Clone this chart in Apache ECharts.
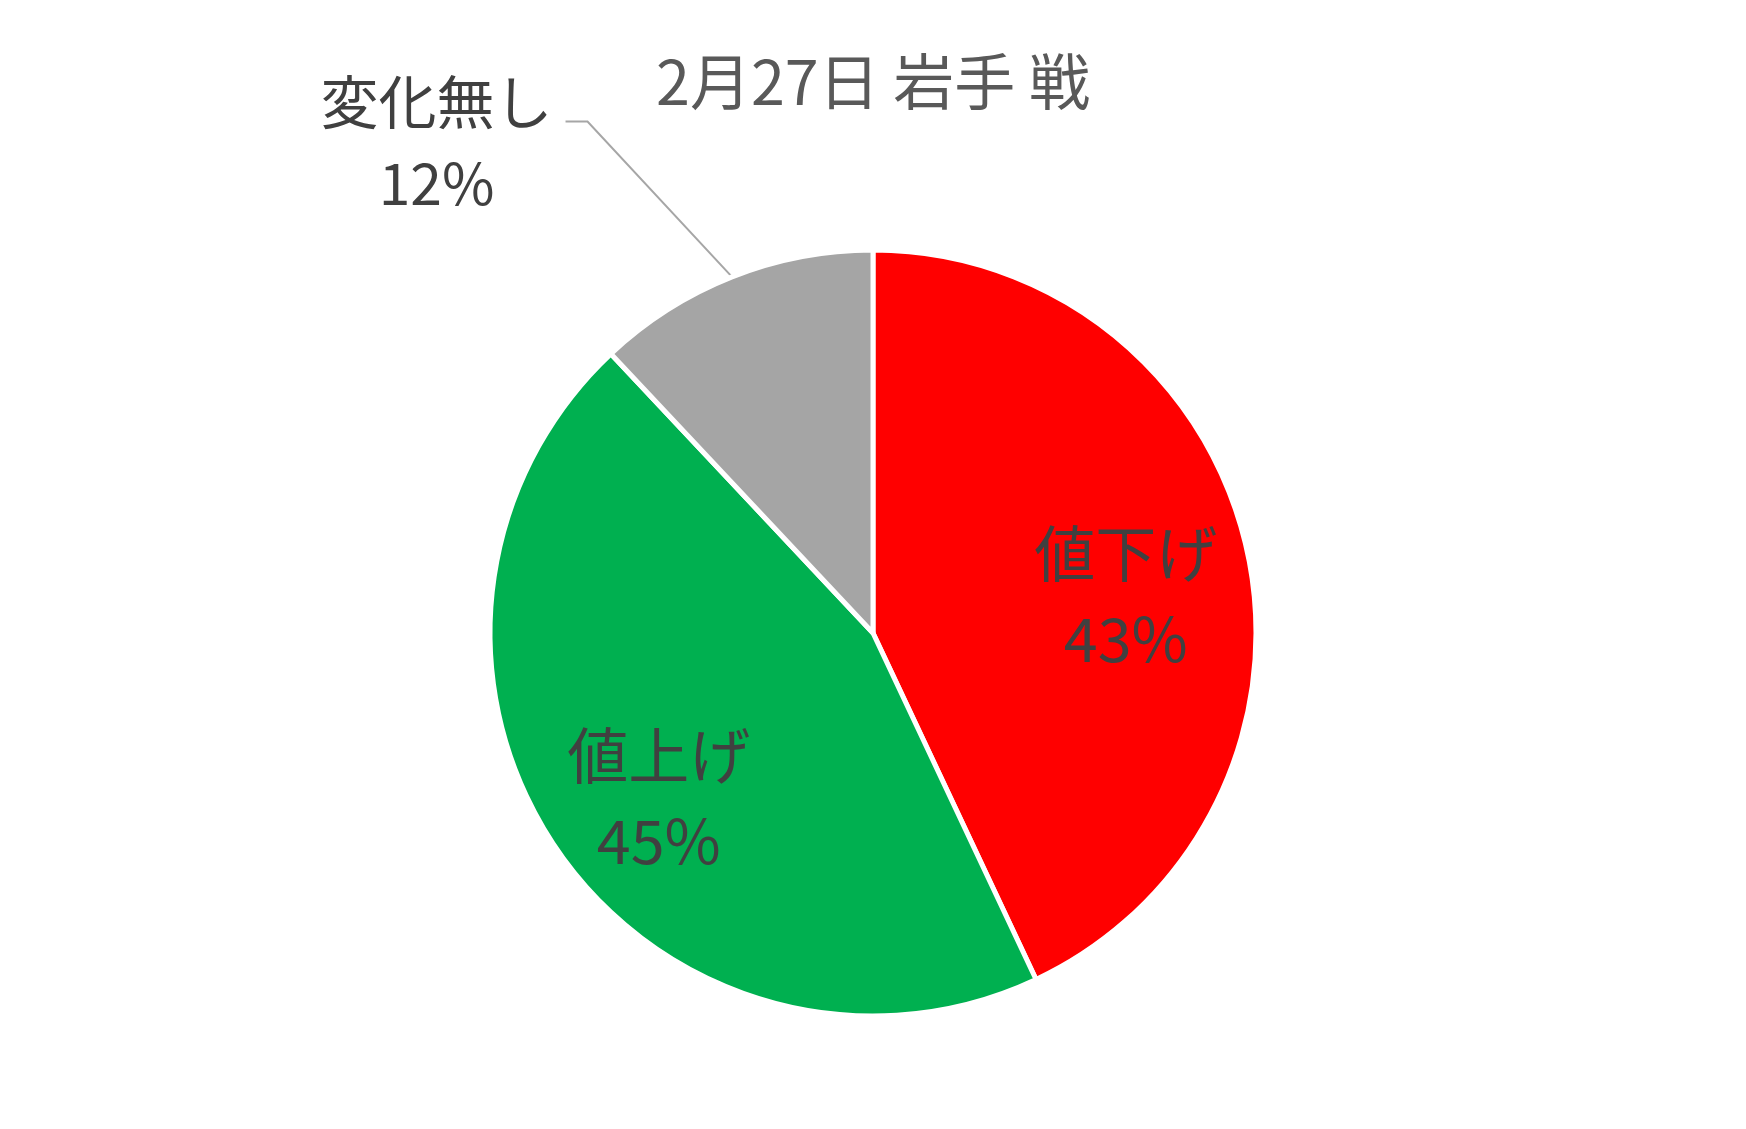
<!DOCTYPE html>
<html>
<head>
<meta charset="utf-8">
<script src="https://cdn.jsdelivr.net/npm/echarts@6/dist/echarts.min.js"></script>
<style>
html,body{margin:0;padding:0;background:#fff;}
#chart{width:1746px;height:1129px;}
</style>
</head>
<body>
<div id="chart"></div>
<script>
const titleText = '2月27日 岩手 戦';
const categories = ['値下げ', '値上げ', '変化無し'];
const values = [43, 45, 12];
const colors = ['#FF0000', '#00B050', '#A5A5A5'];

const FONT = '"Noto Sans CJK JP", "Noto Sans", sans-serif';
const chart = echarts.init(document.getElementById('chart'));

const mainData = categories.map((c, i) => ({
  name: c,
  value: values[i],
  itemStyle: { color: colors[i] },
  label: { show: i === 2 },
  labelLine: { show: i === 2 }
}));
const overlayData = categories.map((c, i) => ({
  name: c,
  value: values[i],
  label: { show: i !== 2 }
}));

chart.setOption({
  backgroundColor: '#ffffff',
  animation: false,
  title: {
    text: titleText,
    left: 'center',
    top: 46,
    textStyle: { fontFamily: FONT, fontSize: 61, fontWeight: 'normal', color: '#595959' }
  },
  series: [
    {
      type: 'pie',
      center: ['50%', 633],
      radius: [0, 383],
      startAngle: 90,
      clockwise: true,
      avoidLabelOverlap: false,
      silent: true,
      itemStyle: { borderColor: '#ffffff', borderWidth: 5 },
      label: {
        position: 'outside',
        fontFamily: FONT,
        color: '#404040',
        padding: [42, 0, 0, 0],
        formatter: p => '{a|' + p.name + '}\n{b|' + p.value + '%}',
        rich: {
          a: { fontFamily: FONT, fontSize: 58, lineHeight: 82, color: '#404040', width: 248, align: 'center' },
          b: { fontFamily: FONT, fontSize: 57, lineHeight: 82, color: '#404040', width: 248, align: 'center' }
        }
      },
      labelLine: {
        length: 167,
        length2: 105,
        lineStyle: { color: '#A6A6A6', width: 2 }
      },
      labelLayout: function (params) {
        const p = params.labelLinePoints;
        if (params.dataIndex !== 2 || !p || p.length < 3) return {};
        const end = p[2];
        return { labelLinePoints: [p[0], [end[0] + 22, end[1]], end] };
      },
      data: mainData
    },
    {
      type: 'pie',
      center: ['50%', 633],
      radius: [129, 383],
      startAngle: 90,
      clockwise: true,
      silent: true,
      avoidLabelOverlap: false,
      itemStyle: { color: 'rgba(0,0,0,0)', borderWidth: 0 },
      label: {
        position: 'inner',
        fontFamily: FONT,
        fontSize: 61,
        lineHeight: 85,
        color: '#404040',
        formatter: p => p.name + '\n' + p.value + '%'
      },
      labelLayout: function () {
        return { dy: 20 };
      },
      labelLine: { show: false },
      data: overlayData
    }
  ]
});
</script>
</body>
</html>
